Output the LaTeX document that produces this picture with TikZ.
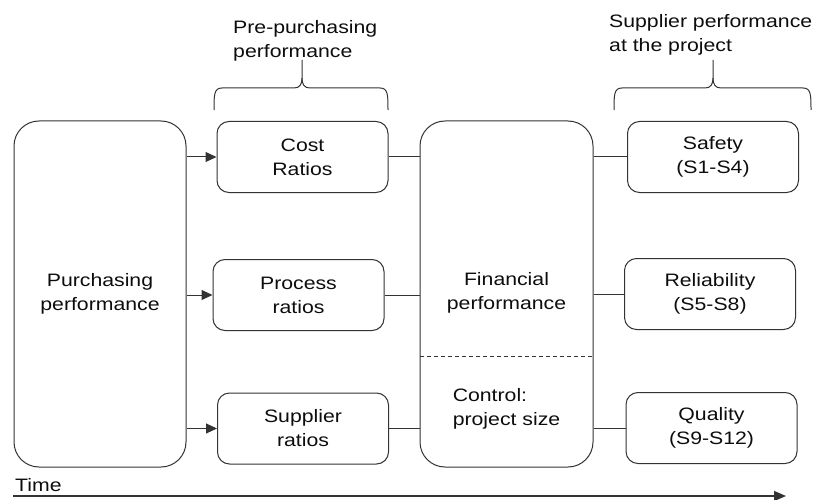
\documentclass[tikz,border=0pt]{standalone}
\usepackage{fontspec}
\setmainfont{Liberation Sans}[FakeStretch=1.18]
\usetikzlibrary{arrows.meta,calc}
\begin{document}
\begin{tikzpicture}[x=1pt,y=-1pt,
  every node/.style={font=\fontsize{18}{24}\selectfont, text=black!95},
  bigbox/.style={draw=black!80, line width=1pt, rounded corners=25pt, minimum width=#1, minimum height=346pt, inner sep=0pt},
  smallbox/.style={draw=black!80, line width=1pt, rounded corners=12pt, minimum height=71pt, minimum width=171pt, inner sep=0pt, align=center},
  link/.style={draw=black!80, line width=1pt},
  arr/.style={link, -{Triangle[length=11pt,width=10pt]}},
  bracepath/.style={draw=black!80, line width=1pt},
  lbl/.style={align=left, inner sep=0pt}
]
\useasboundingbox (0,0) rectangle (822,500);

% big boxes
\node[bigbox=172pt] (purch) at (100,294) {};
\node[align=center] (purchtxt) at (100,294) {Purchasing\\performance};
\node[bigbox=173pt] (fin) at (506.5,294) {};
\node[lbl,align=center] (fintxt) at (506.5,293) {Financial\\performance};
\node[lbl] (ctrltxt) at (506.5,409) {Control:\\project size};
\coordinate (dl) at (420,356);
\coordinate (dr) at (593,356);
\draw[link, dashed, dash pattern=on 4pt off 3pt] (dl) -- (dr);

% middle column
\node[smallbox] (cost) at (302.5,157) {Cost\\Ratios};
\node[smallbox] (proc) at (298.5,295) {Process\\ratios};
\node[smallbox] (supp) at (303,428.5) {Supplier\\ratios};

% right column
\node[smallbox] (safety) at (713,157) {Safety\\(S1-S4)};
\node[smallbox] (rel) at (710,294) {Reliability\\(S5-S8)};
\node[smallbox] (qual) at (711.5,428) {Quality\\(S9-S12)};

% arrows from purchasing
\draw[arr] (purch.east |- cost.west) -- (cost.west);
\draw[arr] (purch.east |- proc.west) -- (proc.west);
\draw[arr] (purch.east |- supp.west) -- (supp.west);

% links to financial
\draw[link] (cost.east) -- (cost.east -| fin.west);
\draw[link] (proc.east) -- (proc.east -| fin.west);
\draw[link] (supp.east) -- (supp.east -| fin.west);

% links from financial
\draw[link] (fin.east |- safety.west) -- (safety.west);
\draw[link] (fin.east |- rel.west) -- (rel.west);
\draw[link] (fin.east |- qual.west) -- (qual.west);

% braces
\draw[bracepath] (214,110) .. controls (214,95) and (214,88) .. (222,88) -- (294,88)
  .. controls (300,88) and (302,84) .. (302,78) -- (302,60);
\draw[bracepath] (388,110) .. controls (388,95) and (388,88) .. (380,88) -- (310,88)
  .. controls (304,88) and (302,84) .. (302,78);
\draw[bracepath] (614,110) .. controls (614,95) and (614,88) .. (622,88) -- (705,88)
  .. controls (711,88) and (713,84) .. (713,78) -- (713,60);
\draw[bracepath] (811,110) .. controls (811,95) and (811,88) .. (803,88) -- (721,88)
  .. controls (715,88) and (713,84) .. (713,78);

% brace labels
\node[lbl, anchor=west] (prelbl) at (233,41) {Pre-purchasing\\performance};
\node[lbl, anchor=west] (suplbl) at (609,35) {Supplier performance\\at the project};

% time axis
\node[lbl, anchor=base west] (timelbl) at (15,491) {Time};
\coordinate (t0) at (13,496);
\coordinate (t1) at (786,496);
\draw[draw=black!80, line width=1.3pt, -{Triangle[length=12pt,width=10pt]}] (t0) -- (t1);
\end{tikzpicture}
\end{document}
